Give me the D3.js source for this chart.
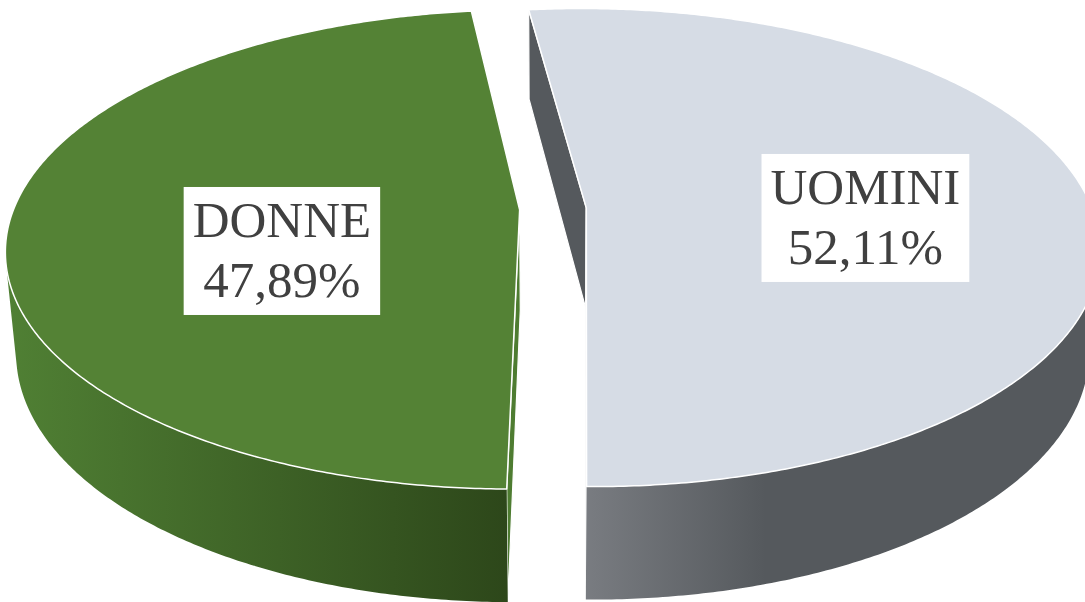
<!DOCTYPE html>
<html>
<head>
<meta charset="utf-8">
<script src="https://cdn.jsdelivr.net/npm/d3@7"></script>
<style>
  html, body { margin: 0; padding: 0; background: #ffffff; }
  svg { display: block; }
</style>
</head>
<body>
<div id="chart"></div>
<script>
// Data
const categories = ['UOMINI', 'DONNE'];
const shares = [52.11, 47.89];

// Styles per category
const palette = {
    UOMINI: { top: '#d6dce5', face: '#55595d', side: [['0', '#797c81'], ['0.35', '#55595d'], ['1', '#55595d']] },
    DONNE: { top: '#548235', face: '#4e7c31', side: [['0', '#508034'], ['1', '#2d471a']] },
};
// nudges of the label boxes (px) from their projected anchor
const labelNudge = { UOMINI: [0, 17], DONNE: [0, 35] };

const width = 1085;
const height = 602;

// Simple perspective camera looking down on a unit pie
const cam = { phi: 27.4 * Math.PI / 180, dist: 5.38, focal: 2722, cx: 553, cy: 209 };
const depth = 0.227;   // thickness of the pie
const explode = 0.066; // slice explosion
const firstAngle = -7.0 * Math.PI / 180;
const sinP = Math.sin(cam.phi);
const cosP = Math.cos(cam.phi);
const camPos = [0, cam.dist * sinP, cam.dist * cosP];

function project(p) {
    const d = cam.dist - p[1] * sinP - p[2] * cosP;
    return [
        +(cam.cx + cam.focal * p[0] / d).toFixed(2),
        +(cam.cy - cam.focal * (p[1] * cosP - p[2] * sinP) / d).toFixed(2),
    ];
}
// point at angle a (clockwise from the far side), radius r, height y
function rim(c, a, r, y) {
    return [c[0] + r * Math.sin(a), y, c[2] - r * Math.cos(a)];
}
function facing(pt, n) {
    return (camPos[0] - pt[0]) * n[0] + (camPos[1] - pt[1]) * n[1] + (camPos[2] - pt[2]) * n[2] > 0;
}

const fmt = d3.formatLocale({ decimal: ',', thousands: '.', grouping: [3], currency: ['€', ''] }).format('.2f');

const pie = d3.pie()
    .sort(null)
    .startAngle(firstAngle)
    .endAngle(firstAngle + 2 * Math.PI);

const slices = pie(shares).map(function (s, i) {
    const mid = (s.startAngle + s.endAngle) / 2;
    s.name = categories[i];
    s.mid = mid;
    s.c = [explode * Math.sin(mid), 0, -explode * Math.cos(mid)];
    return s;
});

const svg = d3.select('#chart')
    .append('svg')
    .attr('width', width)
    .attr('height', height);

const defs = svg.append('defs');
const line = d3.line().curve(d3.curveLinearClosed);

function arcPoints(s, y) {
    const n = Math.ceil((s.endAngle - s.startAngle) / (Math.PI / 360));
    const step = (s.endAngle - s.startAngle) / n;
    return d3.range(n + 1).map(i => rim(s.c, s.startAngle + i * step, 1, y));
}

slices.forEach(function (s, i) {
    const g = svg.append('g').attr('class', 'slice');
    const col = palette[s.name];

    // radial cut faces
    [[s.startAngle, -1], [s.endAngle, 1]].forEach(function ([a, sign]) {
        const n = [sign * Math.cos(a), 0, sign * Math.sin(a)];
        if (!facing(rim(s.c, a, 0.5, -depth / 2), n)) return;
        const pts = [
            [s.c[0], 0, s.c[2]],
            rim(s.c, a, 1, 0),
            rim(s.c, a, 1, -depth),
            [s.c[0], -depth, s.c[2]],
        ].map(project);
        g.append('path')
            .attr('d', line(pts))
            .attr('fill', col.face)
            .attr('stroke', '#ffffff')
            .attr('stroke-width', 1.2)
            .attr('stroke-linejoin', 'round');
    });

    // outer wall, only the quads that face the camera
    const top = arcPoints(s, 0);
    const bottom = arcPoints(s, -depth);
    let d = '';
    const xs = [];
    for (let k = 0; k < top.length - 1; k++) {
        const am = s.startAngle + (k + 0.5) * (s.endAngle - s.startAngle) / (top.length - 1);
        const n = [Math.sin(am), 0, -Math.cos(am)];
        if (!facing(rim(s.c, am, 1, -depth / 2), n)) continue;
        const q = [top[k], top[k + 1], bottom[k + 1], bottom[k]].map(project);
        q.forEach(p => xs.push(p[0]));
        d += 'M' + q.join('L') + 'Z';
    }
    const gradId = 'side' + i;
    defs.append('linearGradient')
        .attr('id', gradId)
        .attr('gradientUnits', 'userSpaceOnUse')
        .attr('x1', d3.min(xs)).attr('x2', d3.max(xs))
        .attr('y1', 0).attr('y2', 0)
        .selectAll('stop')
        .data(col.side)
        .enter()
        .append('stop')
        .attr('offset', d => d[0])
        .attr('stop-color', d => d[1]);
    g.append('path')
        .attr('d', d)
        .attr('fill', 'url(#' + gradId + ')');

    // top face
    const topPts = [[s.c[0], 0, s.c[2]]].concat(top).map(project);
    g.append('path')
        .attr('d', line(topPts))
        .attr('fill', col.top)
        .attr('stroke', '#ffffff')
        .attr('stroke-width', 1.5)
        .attr('stroke-linejoin', 'round');
});

// Data labels
slices.forEach(function (s) {
    const r = s.name === 'UOMINI' ? 0.556 : 0.468;
    const anchor = project(rim(s.c, s.mid, r, 0));
    const cx = anchor[0] + labelNudge[s.name][0];
    const cy = anchor[1] + labelNudge[s.name][1];
    const lab = svg.append('g').attr('class', 'label');
    const box = lab.append('rect').attr('fill', '#ffffff');
    const txt = lab.append('text')
        .attr('text-anchor', 'middle')
        .attr('fill', '#404040')
        .style('font-family', '"Liberation Serif", "Times New Roman", serif')
        .style('font-size', '51px');
    txt.append('tspan').attr('x', cx).attr('y', cy - 14).text(s.name);
    txt.append('tspan').attr('x', cx).attr('y', cy + 46).text(fmt(s.data) + '%');
    const bb = txt.node().getBBox();
    const w = bb.width + 18;
    const h = 128;
    box.attr('x', cx - w / 2).attr('y', cy - h / 2).attr('width', w).attr('height', h);
});
</script>
</body>
</html>
